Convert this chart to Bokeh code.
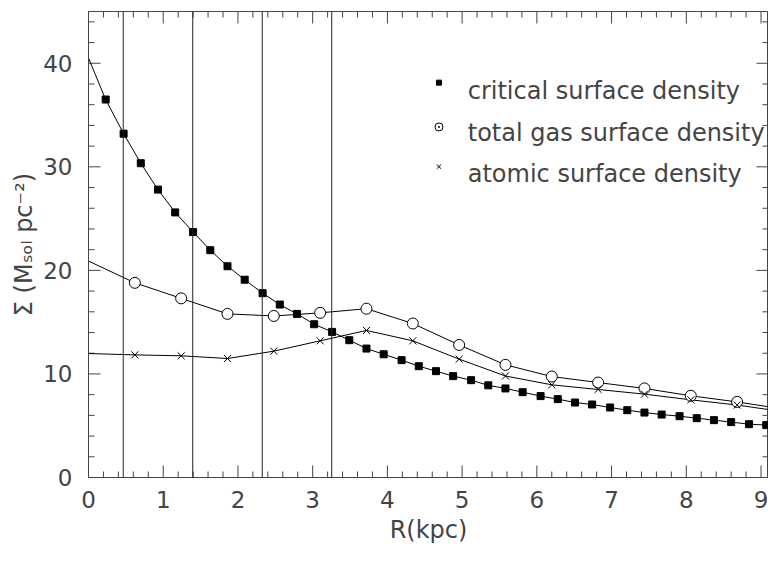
import numpy as np
from bokeh.plotting import figure
from bokeh.models import SingleIntervalTicker, Span, Label, Range1d
from bokeh.embed import file_html
from bokeh.resources import INLINE

# ---- data ----
crit_x = [0.23, 0.47, 0.70, 0.93, 1.16, 1.40, 1.63, 1.86, 2.09, 2.33, 2.56, 2.79, 3.02,
          3.26, 3.49, 3.72, 3.95, 4.19, 4.42, 4.65, 4.88, 5.12, 5.35, 5.58, 5.81, 6.05,
          6.28, 6.51, 6.74, 6.98, 7.21, 7.44, 7.67, 7.91, 8.14, 8.37, 8.60, 8.84, 9.07]
crit_y = [36.5, 33.2, 30.35, 27.8, 25.6, 23.7, 21.95, 20.4, 19.1, 17.8, 16.7, 15.8, 14.8,
          14.06, 13.26, 12.45, 11.9, 11.33, 10.75, 10.27, 9.79, 9.4, 8.9, 8.6, 8.24, 7.86,
          7.57, 7.24, 7.05, 6.76, 6.5, 6.27, 6.08, 5.92, 5.73, 5.54, 5.35, 5.15, 5.06]
crit_ends = [40.5, 4.9]          # curve values at R=0 and at the right edge

gas_x = [0.62, 1.24, 1.86, 2.48, 3.10, 3.72, 4.34, 4.96, 5.58, 6.20, 6.82, 7.44, 8.06, 8.68]
gas_y = [18.8, 17.3, 15.8, 15.6, 15.9, 16.3, 14.87, 12.8, 10.88, 9.75, 9.17, 8.6, 7.89, 7.3]
gas_ends = [20.9, 6.66]

atom_x = gas_x
atom_y = [11.84, 11.75, 11.49, 12.2, 13.2, 14.2, 13.2, 11.43, 9.8, 8.95, 8.5, 8.05, 7.5, 7.0]
atom_ends = [11.97, 6.4]

r_edge = 9.25
boundaries = [0.465, 1.395, 2.325, 3.255]

legend_labels = ["critical surface density", "total gas surface density", "atomic surface density"]

X_END, Y_END = 9.1, 45
FONT = "DejaVu Sans"
INK = "#444444"
AX = "#444444"

p = figure(width=768, height=546, x_range=Range1d(0, X_END), y_range=Range1d(0, Y_END),
           output_backend="svg", toolbar_location=None,
           min_border_left=88, min_border_right=0, min_border_top=11, min_border_bottom=69)
p.grid.visible = False
p.outline_line_color = AX
p.background_fill_color = "white"
p.border_fill_color = "white"

p.xaxis.ticker = SingleIntervalTicker(interval=1, num_minor_ticks=5)
p.yaxis.ticker = SingleIntervalTicker(interval=10, num_minor_ticks=5)
for ax in p.axis:
    ax.major_tick_in = 0
    ax.major_tick_out = 0
    ax.minor_tick_in = 0
    ax.minor_tick_out = 0
    ax.axis_line_color = AX
    ax.major_label_text_font = FONT
    ax.major_label_text_color = INK
    ax.major_label_text_font_size = "23px"
    ax.axis_label_text_font = FONT
    ax.axis_label_text_font_size = "24px"
    ax.axis_label_text_font_style = "normal"
    ax.axis_label_text_color = INK

p.xaxis.major_label_standoff = 13
p.xaxis.axis_label = "R(kpc)"
p.xaxis.axis_label_standoff = 5
p.yaxis.major_label_standoff = 16
p.yaxis.axis_label = "\u03a3 (M\u209b\u2092\u2097 pc\u207b\u00b2)"
p.yaxis.axis_label_standoff = 2

# inward tick marks on all four sides (screen-length rays)
x_major = np.arange(0, X_END + 1e-9, 1.0)
x_minor = np.array([v for v in np.arange(0, X_END + 1e-9, 0.2) if abs(v - round(v)) > 1e-6])
y_major = np.arange(0, Y_END + 1e-9, 10.0)
y_minor = np.array([v for v in np.arange(0, Y_END + 1e-9, 2.0) if abs(v / 10 - round(v / 10)) > 1e-6])

def ticks(xs, ys, length, angle):
    p.ray(x=xs, y=ys, length=length, length_units="screen", angle=angle, angle_units="deg",
          line_color=AX, line_width=1)

ticks(x_major, np.zeros_like(x_major), 12, 90)
ticks(x_minor, np.zeros_like(x_minor), 6, 90)
ticks(x_major, np.full_like(x_major, Y_END), 12, -90)
ticks(x_minor, np.full_like(x_minor, Y_END), 6, -90)
ticks(np.zeros_like(y_major), y_major, 12, 0)
ticks(np.zeros_like(y_minor), y_minor, 6, 0)
ticks(np.full_like(y_major, X_END), y_major, 12, 180)
ticks(np.full_like(y_minor, X_END), y_minor, 6, 180)

# vertical boundary lines
for b in boundaries:
    p.add_layout(Span(location=b, dimension="height", line_color="#222222", line_width=1))

# curves
p.line([0] + crit_x + [r_edge], [crit_ends[0]] + crit_y + [crit_ends[1]], line_color="black", line_width=1)
p.line([0] + gas_x + [r_edge], [gas_ends[0]] + gas_y + [gas_ends[1]], line_color="black", line_width=1)
p.line([0] + atom_x + [r_edge], [atom_ends[0]] + atom_y + [atom_ends[1]], line_color="black", line_width=1)

p.scatter(crit_x, crit_y, marker="square", size=7, color="black")
p.scatter(gas_x, gas_y, marker="circle", size=11, fill_color="white", line_color="black", line_width=1)
p.scatter(atom_x, atom_y, marker="x", size=10, line_color="black", line_width=1)

# legend drawn in data space
leg_mx = 4.69
leg_my = [38.13, 33.85, 30.02]
leg_tx = 5.075
leg_ty = [37.3, 33.3, 29.3]
p.scatter([leg_mx], [leg_my[0]], marker="square", size=5, color="black")
p.scatter([leg_mx], [leg_my[1]], marker="circle_dot", size=8, fill_color="white", line_color="black", line_width=1)
p.scatter([leg_mx], [leg_my[2]], marker="x", size=6, line_color="black", line_width=1)
for t, ty in zip(legend_labels, leg_ty):
    p.add_layout(Label(x=leg_tx, y=ty, text=t, text_font=FONT, text_font_size="24px",
                       text_color=INK, text_align="left", text_baseline="alphabetic"))

open("out.html", "w").write(file_html(p, INLINE))
